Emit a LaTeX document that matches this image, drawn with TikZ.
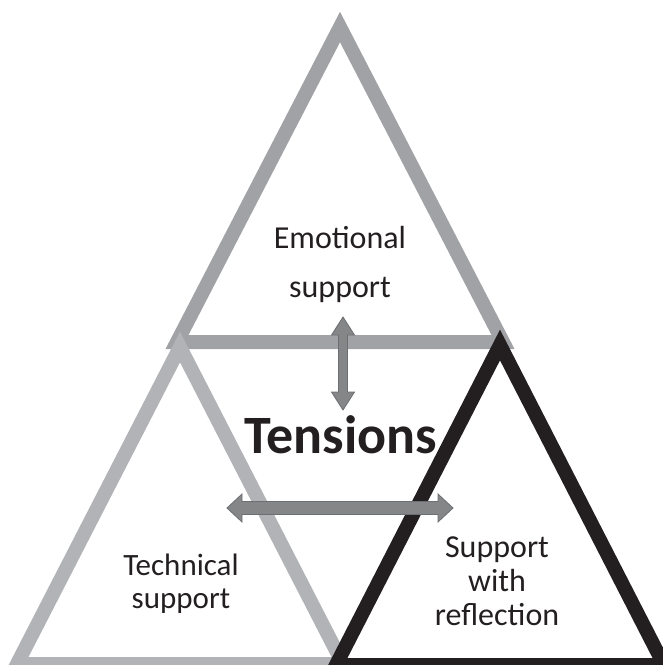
\documentclass[tikz,border=0pt]{standalone}
\usepackage{fontspec}
\setmainfont{Carlito}
\usetikzlibrary{calc}
\definecolor{topgray}{HTML}{A1A2A5}
\definecolor{leftgray}{HTML}{B2B3B6}
\definecolor{darkline}{HTML}{231F20}
\definecolor{arrowfill}{HTML}{858688}
\definecolor{arrowedge}{HTML}{6D6E71}
\tikzset{
  tri/.style={line width=14pt, line join=miter, miter limit=10},
  fatarrow/.style={fill=arrowfill, draw=arrowedge, line width=0.8pt, line join=miter},
  lbl/.style={text=darkline, align=center, anchor=base, inner sep=0pt},
}
\begin{document}
\begin{tikzpicture}[x=1pt,y=-1pt]
\useasboundingbox (0,0) rectangle (663,665);
% triangles
\coordinate (ta) at (340,27);
\coordinate (tl) at (177,342);
\coordinate (tr) at (503,342);
\coordinate (la) at (180,347);
\coordinate (ll) at (17,664);
\coordinate (lr) at (343,664);
\coordinate (ra) at (500,345);
\coordinate (rl) at (336,665);
\coordinate (rr) at (664,665);
\draw[tri, topgray] (ta) -- (tl) -- (tr) -- cycle;
\draw[tri, leftgray] (la) -- (ll) -- (lr) -- cycle;
\draw[tri, darkline] (ra) -- (rl) -- (rr) -- cycle;
% arrows
\coordinate (vt) at (343,317);
\coordinate (vb) at (343,410);
\coordinate (hl) at (227,508);
\coordinate (hr) at (453,508);
\draw[fatarrow] (vt) -- ($(vt)+(11.5,18)$) -- ($(vt)+(4.5,18)$) -- ($(vb)+(4.5,-18)$) -- ($(vb)+(11.5,-18)$) -- (vb)
  -- ($(vb)+(-11.5,-18)$) -- ($(vb)+(-4.5,-18)$) -- ($(vt)+(-4.5,18)$) -- ($(vt)+(-11.5,18)$) -- cycle;
\draw[fatarrow] (hl) -- ($(hl)+(15,-14)$) -- ($(hl)+(15,-6.5)$) -- ($(hr)+(-15,-6.5)$) -- ($(hr)+(-15,-14)$) -- (hr)
  -- ($(hr)+(-15,14)$) -- ($(hr)+(-15,6.5)$) -- ($(hl)+(15,6.5)$) -- ($(hl)+(15,14)$) -- cycle;
% labels (anchor=base is the baseline of the last line)
\node[lbl, font=\fontsize{32}{49}\selectfont] (emo) at (340,297) {Emotional\\support};
\node[lbl, font=\fontsize{54}{60}\selectfont\bfseries] (ten) at (341,453) {Tensions};
\node[lbl, font=\fontsize{31}{33}\selectfont] (tech) at (181,608) {Technical\\support};
\node[lbl, font=\fontsize{32}{34}\selectfont] (refl) at (497,625) {Support\\with\\reflection};
\end{tikzpicture}
\end{document}
